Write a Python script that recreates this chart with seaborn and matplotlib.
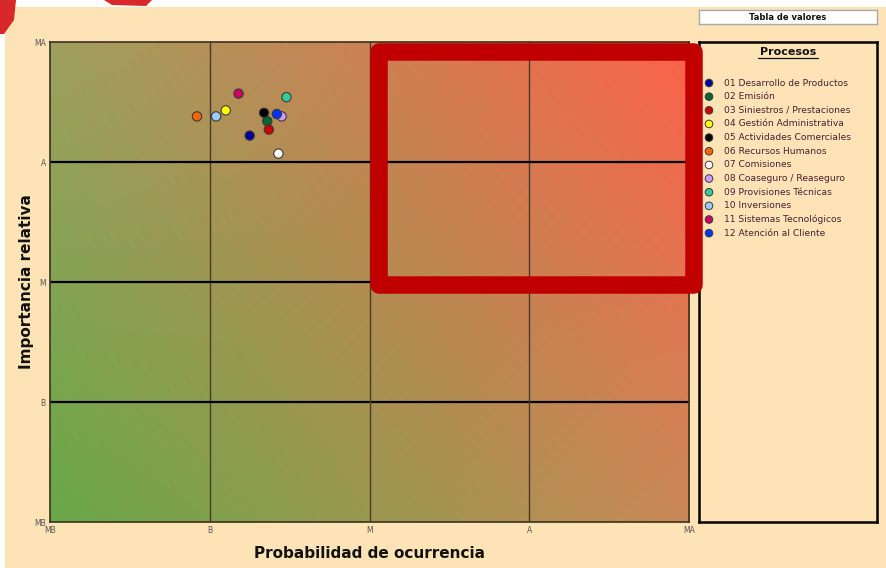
import numpy as np
import pandas as pd
import matplotlib
matplotlib.use("Agg")
import matplotlib.pyplot as plt
import seaborn as sns
from matplotlib.patches import Rectangle, Polygon

# ---------------- data ----------------
procesos = ["01 Desarrollo de Productos", "02 Emisión", "03 Siniestros / Prestaciones",
            "04 Gestión Administrativa", "05 Actividades Comerciales", "06 Recursos Humanos",
            "07 Comisiones", "08 Coaseguro / Reaseguro", "09 Provisiones Técnicas",
            "10 Inversiones", "11 Sistemas Tecnológicos", "12 Atención al Cliente"]
probabilidad = [1.25, 1.36, 1.37, 1.10, 1.34, 0.92, 1.43, 1.45, 1.48, 1.04, 1.18, 1.42]
importancia = [3.22, 3.34, 3.27, 3.43, 3.41, 3.38, 3.07, 3.38, 3.54, 3.38, 3.57, 3.40]
colores = ["#000099", "#006633", "#cc0000", "#ffff00", "#000000", "#ff6600",
           "#ffffff", "#cc99ff", "#33cc99", "#99ccff", "#cc0066", "#0033ff"]
niveles = ["MB", "B", "M", "A", "MA"]

df = pd.DataFrame({"Proceso": procesos, "Probabilidad": probabilidad, "Importancia": importancia})

# ---------------- figure ----------------
sns.set_theme(style="white")
plt.rcParams["font.family"] = ["DejaVu Sans"]
W, H = 886, 568
fig = plt.figure(figsize=(W / 100, H / 100), dpi=100)
fig.patch.set_facecolor("white")

# peach panel
fig.patches.append(Rectangle((5 / W, 0), 1, 1 - 7 / H, transform=fig.transFigure,
                             facecolor="#fde3b6", edgecolor="none", zorder=-10))
# decorative red fragments at top-left
fig.patches.append(Polygon([(0, 1), (16 / W, 1), (14 / W, 1 - 20 / H), (4 / W, 1 - 34 / H), (0, 1 - 34 / H)],
                           closed=True, transform=fig.transFigure, facecolor="#d8282c",
                           edgecolor="none", zorder=-5))
fig.patches.append(Polygon([(104 / W, 1), (152 / W, 1), (146 / W, 1 - 6 / H), (112 / W, 1 - 5 / H)],
                           closed=True, transform=fig.transFigure, facecolor="#d8282c",
                           edgecolor="none", zorder=-5))

# legend box (drawn below the main axes so the red frame overlaps it)
lx0, ly0, lx1, ly1 = 699, 42, 877, 522
lax = fig.add_axes([lx0 / W, 1 - ly1 / H, (lx1 - lx0) / W, (ly1 - ly0) / H])
lax.set_zorder(1)
lax.set_xlim(lx0, lx1)
lax.set_ylim(ly1, ly0)
lax.set_facecolor("#fde3b6")
lax.set_xticks([])
lax.set_yticks([])
for s in lax.spines.values():
    s.set_color("#000000")
    s.set_linewidth(1.8)
lax.text(788, 52, "Procesos", ha="center", va="center", fontsize=8, fontweight="bold",
         color="#111111")
lax.plot([758, 818], [58, 58], color="#111111", lw=0.9)
ys = 83 + np.arange(len(procesos)) * 13.65
lax.scatter([709] * len(procesos), ys, c=colores, s=30, edgecolors="#3a3a3a", linewidths=0.7, zorder=3)
for yy, name in zip(ys, procesos):
    lax.text(724, yy, name, ha="left", va="center", fontsize=6.6, color="#4a1f33")

ax = fig.add_axes([50 / W, 1 - 522 / H, 639 / W, 480 / H])
ax.set_zorder(3)

# gradient background (bilinear between corner colours)
bl = np.array([104, 168, 72]) / 255
tl = np.array([158, 160, 94]) / 255
br = np.array([202, 136, 88]) / 255
tr = np.array([252, 98, 74]) / 255
n = 200
u = np.linspace(0, 1, n)[None, :, None]
v = np.linspace(1, 0, n)[:, None, None]
img = (1 - u) * (1 - v) * bl + u * (1 - v) * br + (1 - u) * v * tl + u * v * tr
ax.imshow(img, extent=[0, 4, 0, 4], aspect="auto", zorder=0, interpolation="bilinear")

for k in [1, 2, 3]:
    ax.axvline(k, color="#4a3a2a", lw=1.0, zorder=1)
    ax.axhline(k, color="#000000", lw=1.6, zorder=1)

# red highlighted zone (thick frame with round joins)
zone = Rectangle((2.061, 1.979), 1.972, 1.938, facecolor="none", edgecolor="#c00000",
                 lw=12.6, joinstyle="round", zorder=4, clip_on=False)
ax.add_patch(zone)

sns.scatterplot(data=df, x="Probabilidad", y="Importancia", hue="Proceso",
                palette=colores, s=45, edgecolor="#3a3a3a", linewidth=0.8,
                legend=False, zorder=5, ax=ax)

ax.set_xlim(0, 4)
ax.set_ylim(0, 4)
ax.set_xticks(range(5))
ax.set_yticks(range(5))
ax.set_xticklabels(niveles)
ax.set_yticklabels(niveles)
ax.tick_params(axis="both", length=0, labelsize=5.5, labelcolor="#555555", pad=3)
for s in ax.spines.values():
    s.set_color("#3a3020")
    s.set_linewidth(1.2)
    s.set_zorder(2)
ax.set_xlabel("Probabilidad de ocurrencia", fontsize=11, fontweight="bold", color="#111111", labelpad=8)
ax.set_ylabel("Importancia relativa", fontsize=11, fontweight="bold", color="#111111", labelpad=0)

# "Tabla de valores" button
bax = fig.add_axes([699 / W, 1 - 24 / H, 178 / W, 14 / H])
bax.set_facecolor("white")
bax.set_xticks([])
bax.set_yticks([])
for s in bax.spines.values():
    s.set_color("#aaaaaa")
    s.set_linewidth(1.0)
bax.text(0.5, 0.5, "Tabla de valores", ha="center", va="center", fontsize=6, fontweight="bold",
         color="#111111", transform=bax.transAxes)

fig.savefig("out.png", dpi=100)
